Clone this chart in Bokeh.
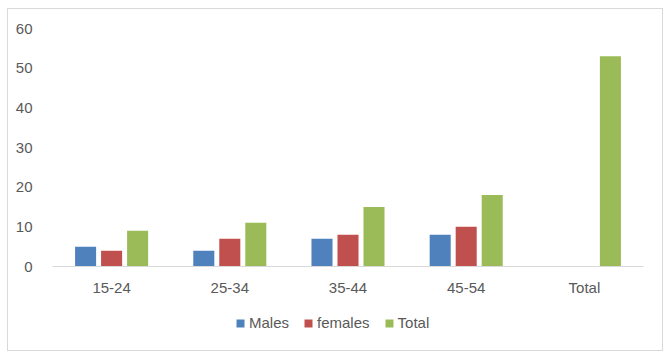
from bokeh.plotting import figure
from bokeh.layouts import column
from bokeh.models import ColumnDataSource, FactorRange, Range1d, Legend, LegendItem, SingleIntervalTicker
from bokeh.transform import dodge
from bokeh.embed import file_html
from bokeh.resources import INLINE

categories = ["15-24", "25-34", "35-44", "45-54", "Total"]
males = [5, 4, 7, 8, 0]
females = [4, 7, 8, 10, 0]
total = [9, 11, 15, 18, 53]
series_names = ["Males", "females", "Total"]
series_colors = ["#4F81BD", "#C0504D", "#9BBB59"]

src = ColumnDataSource(dict(cat=categories, males=males, females=females, total=total))

FONT = "Liberation Sans"
TXT = "#595959"

p = figure(x_range=FactorRange(*categories), y_range=Range1d(0, 60),
           width=654, height=300, output_backend="svg", toolbar_location=None,
           min_border_left=44, min_border_right=19, min_border_top=19, min_border_bottom=43)

w = 0.178
offsets = [-0.22, 0.0, 0.22]
for col, off, color in zip(["males", "females", "total"], offsets, series_colors):
    p.vbar(x=dodge("cat", off, range=p.x_range), top=col, width=w, source=src,
           color=color, line_color=None)

p.outline_line_color = None
p.xgrid.grid_line_color = None
p.ygrid.grid_line_color = None

p.yaxis.ticker = SingleIntervalTicker(interval=10)
p.yaxis.axis_line_color = None
p.yaxis.major_tick_line_color = None
p.yaxis.minor_tick_line_color = None
p.yaxis.major_tick_out = 0
p.yaxis.major_label_standoff = 16
p.yaxis.major_label_text_font = FONT
p.yaxis.major_label_text_font_size = "15px"
p.yaxis.major_label_text_color = TXT

p.xaxis.axis_line_color = "#D9D9D9"
p.xaxis.axis_line_width = 1
p.xaxis.major_tick_line_color = None
p.xaxis.major_tick_out = 0
p.xaxis.major_label_standoff = 12
p.xaxis.major_label_text_font = FONT
p.xaxis.major_label_text_font_size = "15px"
p.xaxis.major_label_text_color = TXT

# legend strip below the chart (zero-size proxy glyphs, only used by the legend)
p2 = figure(x_range=Range1d(0, 1), y_range=Range1d(0, 1), width=654, height=41,
            output_backend="svg", toolbar_location=None,
            x_axis_location=None, y_axis_location=None, min_border=0)
p2.outline_line_color = None
p2.xgrid.grid_line_color = None
p2.ygrid.grid_line_color = None
items = []
for name, color in zip(series_names, series_colors):
    r = p2.vbar(x=[0.5], top=[0], bottom=[0], width=0, color=color, line_color=None)
    items.append(LegendItem(label=name, renderers=[r]))

legend = Legend(items=items, orientation="horizontal", location=(183, 19),
                glyph_width=10, glyph_height=10, label_standoff=4, spacing=14,
                label_text_font=FONT, label_text_font_size="15px", label_text_color=TXT,
                border_line_color=None, background_fill_alpha=0,
                margin=0, padding=6)
p2.add_layout(legend)

layout = column(p, p2, spacing=0,
                styles={"border": "1px solid #D9D9D9", "margin": "8px 0 0 7px"})
open("out.html", "w").write(file_html(layout, INLINE))
